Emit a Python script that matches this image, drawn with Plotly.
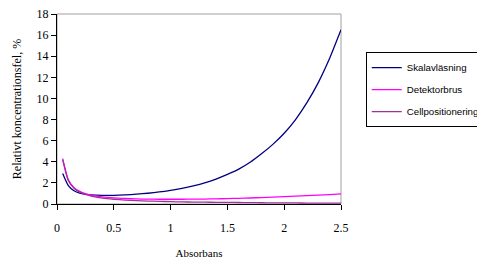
import plotly.graph_objects as go

absorbans = [0.05, 0.1, 0.15, 0.2, 0.25, 0.3, 0.4, 0.5, 0.6, 0.7, 0.8, 0.9, 1.0, 1.1, 1.2,
             1.3, 1.4, 1.5, 1.6, 1.7, 1.8, 1.9, 2.0, 2.1, 2.2, 2.3, 2.4, 2.5]
skalavlasning = [2.9, 1.75, 1.25, 1.02, 0.92, 0.86, 0.82, 0.82, 0.86, 0.93, 1.02, 1.14, 1.3, 1.49,
                 1.72, 2.0, 2.36, 2.8, 3.3, 3.95, 4.75, 5.65, 6.7, 8.0, 9.6, 11.5, 13.8, 16.5]
detektorbrus = [4.3, 2.3, 1.55, 1.2, 0.98, 0.85, 0.68, 0.58, 0.52, 0.48, 0.46, 0.45, 0.45, 0.45,
                0.46, 0.47, 0.49, 0.51, 0.54, 0.57, 0.61, 0.65, 0.69, 0.74, 0.79, 0.84, 0.89, 0.95]
cellpositionering = [4.2, 2.2, 1.5, 1.12, 0.9, 0.75, 0.56, 0.45, 0.37, 0.32, 0.28, 0.25, 0.22, 0.2,
                     0.18, 0.17, 0.16, 0.15, 0.14, 0.13, 0.12, 0.11, 0.1, 0.1, 0.09, 0.09, 0.08, 0.08]
x_ticks = [0, 0.5, 1, 1.5, 2, 2.5]
x_ticklabels = ["0", "0.5", "1", "1.5", "2", "2.5"]

series = [
    ("Skalavläsning", skalavlasning, "#000080"),
    ("Detektorbrus", detektorbrus, "#FF00FF"),
    ("Cellpositionering", cellpositionering, "#A0309A"),
]

fig = go.Figure()
for i, (name, vals, col) in enumerate(series):
    fig.add_trace(go.Scatter(x=absorbans, y=vals, mode="lines", name=name,
                             legendgroup=f"g{i}",
                             line=dict(color=col, width=1.3, shape="spline", smoothing=0.6)))

serif = "Liberation Serif"
# page has an 8px body margin, so the figure is sized to fit the 485x260 window
fig.update_layout(
    width=477, height=252,
    margin=dict(l=49, r=144, t=6, b=56, autoexpand=False),
    paper_bgcolor="white", plot_bgcolor="white",
    font=dict(family=serif, size=12, color="black"),
    showlegend=True,
    legend=dict(xref="container", yref="container", x=0.75, y=0.825,
                xanchor="left", yanchor="top",
                bordercolor="black", borderwidth=1, bgcolor="white",
                font=dict(family="Liberation Sans", size=9.7),
                traceorder="grouped", tracegroupgap=3, itemwidth=30),
    xaxis=dict(range=[0, 2.5], tickvals=x_ticks, ticktext=x_ticklabels, automargin=False,
               showgrid=False, zeroline=False, showline=True, linecolor="black", linewidth=1,
               ticks="outside", ticklen=5, tickcolor="black", ticklabelstandoff=8,
               ticklabeloverflow="allow",
               tickfont=dict(family=serif, size=12),
               title=dict(text="Absorbans", font=dict(family=serif, size=11), standoff=14)),
    yaxis=dict(range=[0, 18], dtick=2, automargin=False,
               showgrid=False, zeroline=False, showline=True, linecolor="black", linewidth=1,
               ticks="outside", ticklen=5, tickcolor="black",
               ticklabeloverflow="allow",
               tickfont=dict(family=serif, size=12),
               title=dict(text="Relativt koncentrationsfel, %", font=dict(family=serif, size=12),
                          standoff=12)),
    shapes=[dict(type="rect", xref="paper", yref="paper", x0=0, y0=0, x1=1, y1=1,
                 line=dict(color="#A0A0A0", width=1), layer="below")],
)

fig.write_html("out.html")
